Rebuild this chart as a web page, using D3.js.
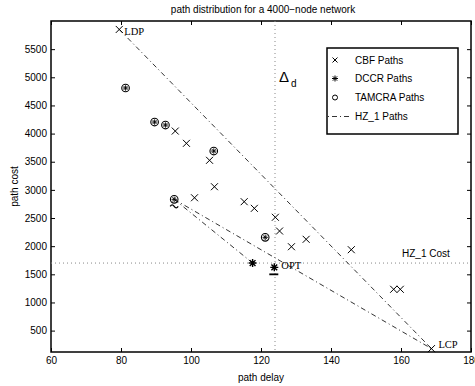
<!doctype html>
<html lang="en">
<head>
<meta charset="utf-8">
<title>path distribution</title>
<script src="https://cdn.jsdelivr.net/npm/d3@7"></script>
<style>
  body { margin: 0; background: #fff; }
  text { font-family: "Liberation Sans", Arial, sans-serif; }
</style>
</head>
<body>
<script>
// CBF paths (x markers), LDP first, LCP last
var cbfDelay = [79.5, 95.5, 98.7, 105.3, 106.7, 101.0, 115.2, 118.1, 124.1, 125.3, 128.7, 132.9, 145.8, 157.9, 159.8, 168.7];
var cbfCost  = [5850, 4045, 3827, 3525, 3056, 2860, 2790, 2672, 2513, 2269, 1990, 2122, 1937, 1234, 1234, 180];

// DCCR paths (asterisks)
var dccrDelay = [81.3, 89.6, 92.7, 106.5, 95.2, 121.2, 117.6, 123.8];
var dccrCost  = [4810, 4205, 4152, 3690, 2832, 2157, 1701, 1624];

// TAMCRA paths (circles)
var tamcraDelay = [81.3, 89.6, 92.7, 106.5, 95.2, 121.2];
var tamcraCost  = [4810, 4205, 4152, 3690, 2832, 2157];

// HZ_1 paths, one segment per entry
var hzDelay = [[79.5, 168.7], [95.2, 117.6], [95.2, 168.7]];
var hzCost  = [[5850, 180], [2832, 1701], [2832, 180]];

var optDelay = 124;    // vertical dotted line (Delta_d)
var hzCostLine = 1700; // horizontal dotted line (HZ_1 Cost)

var xTicks = [60, 80, 100, 120, 140, 160, 180];
var yTicks = [500, 1000, 1500, 2000, 2500, 3000, 3500, 4000, 4500, 5000, 5500];

var svgWidth = 475, svgHeight = 386;
var plotL = 51, plotR = 471, plotT = 21, plotB = 352;

var svg = d3.select("body").append("svg")
    .attr("width", svgWidth)
    .attr("height", svgHeight);

var x = d3.scaleLinear().domain([60, 180]).range([plotL, plotR]);
var y = d3.scaleLinear().domain([120, 6000]).range([plotB, plotT]);

// axes, MATLAB style: ticks pointing inward on all four sides
function styleAxis(g) {
    g.attr("font-family", null).attr("font-size", null);
    g.selectAll("text").attr("font-size", 10).attr("fill", "#000");
    g.selectAll("line").attr("stroke", "#000");
    g.select(".domain").remove();
}

svg.append("g").attr("transform", "translate(0," + plotB + ")")
    .call(d3.axisBottom(x).tickValues(xTicks).tickFormat(d3.format("d"))
        .tickSizeInner(-4).tickSizeOuter(0).tickPadding(5))
    .call(styleAxis);
svg.append("g").attr("transform", "translate(0," + plotT + ")")
    .call(d3.axisTop(x).tickValues(xTicks).tickSizeInner(-4).tickSizeOuter(0).tickFormat(""))
    .call(styleAxis);
svg.append("g").attr("transform", "translate(" + plotL + ",0)")
    .call(d3.axisLeft(y).tickValues(yTicks).tickFormat(d3.format("d"))
        .tickSizeInner(-4).tickSizeOuter(0).tickPadding(4))
    .call(styleAxis);
svg.append("g").attr("transform", "translate(" + plotR + ",0)")
    .call(d3.axisRight(y).tickValues(yTicks).tickSizeInner(-4).tickSizeOuter(0).tickFormat(""))
    .call(styleAxis);

// frame
svg.append("rect")
    .attr("x", plotL).attr("y", plotT)
    .attr("width", plotR - plotL).attr("height", plotB - plotT)
    .attr("fill", "none").attr("stroke", "#000").attr("stroke-width", 1.5);

// dotted reference lines
svg.append("line")
    .attr("x1", x(optDelay)).attr("x2", x(optDelay))
    .attr("y1", plotT).attr("y2", plotB)
    .attr("stroke", "#888").attr("stroke-width", 1).attr("stroke-dasharray", "1,3");
svg.append("line")
    .attr("x1", plotL).attr("x2", plotR)
    .attr("y1", y(hzCostLine)).attr("y2", y(hzCostLine))
    .attr("stroke", "#888").attr("stroke-width", 1).attr("stroke-dasharray", "1,3");

// HZ_1 dash-dot segments
svg.selectAll(".hz")
    .data(hzDelay)
    .enter().append("line")
    .attr("class", "hz")
    .attr("x1", function(d) { return x(d[0]); })
    .attr("x2", function(d) { return x(d[1]); })
    .attr("y1", function(d, i) { return y(hzCost[i][0]); })
    .attr("y2", function(d, i) { return y(hzCost[i][1]); })
    .attr("stroke", "#000").attr("stroke-width", 0.8)
    .attr("stroke-dasharray", "5,3,1,3");

// marker paths
function crossPath(s) {
    return "M" + (-s) + "," + (-s) + "L" + s + "," + s + "M" + (-s) + "," + s + "L" + s + "," + (-s);
}
function starPath(s) {
    var d = s * 0.72;
    return "M" + (-s) + ",0L" + s + ",0M0," + (-s) + "L0," + s +
        "M" + (-d) + "," + (-d) + "L" + d + "," + d + "M" + (-d) + "," + d + "L" + d + "," + (-d);
}

// CBF
svg.selectAll(".cbf")
    .data(cbfDelay)
    .enter().append("path")
    .attr("class", "cbf")
    .attr("transform", function(d, i) { return "translate(" + x(d) + "," + y(cbfCost[i]) + ")"; })
    .attr("d", crossPath(3.5))
    .attr("stroke", "#000").attr("stroke-width", 1).attr("fill", "none");

// TAMCRA
svg.selectAll(".tamcra")
    .data(tamcraDelay)
    .enter().append("circle")
    .attr("class", "tamcra")
    .attr("cx", function(d) { return x(d); })
    .attr("cy", function(d, i) { return y(tamcraCost[i]); })
    .attr("r", 3.8)
    .attr("stroke", "#000").attr("stroke-width", 1.1).attr("fill", "none");

// DCCR (smaller and thinner where it sits inside a TAMCRA circle)
svg.selectAll(".dccr")
    .data(dccrDelay)
    .enter().append("path")
    .attr("class", "dccr")
    .attr("transform", function(d, i) { return "translate(" + x(d) + "," + y(dccrCost[i]) + ")"; })
    .attr("d", function(d, i) { return starPath(i < tamcraDelay.length ? 2.7 : 4); })
    .attr("stroke", "#000")
    .attr("stroke-width", function(d, i) { return i < tamcraDelay.length ? 0.9 : 1.4; })
    .attr("fill", "none");

// small marks under two of the DCCR points
svg.append("path")
    .attr("d", "M" + (x(dccrDelay[4]) - 4) + "," + (y(dccrCost[4]) + 7) +
        " q2,-3 4,0 t4,0")
    .attr("stroke", "#000").attr("stroke-width", 1.3).attr("fill", "none");
svg.append("line")
    .attr("x1", x(dccrDelay[7]) - 5).attr("x2", x(dccrDelay[7]) + 4)
    .attr("y1", y(dccrCost[7]) + 7).attr("y2", y(dccrCost[7]) + 7)
    .attr("stroke", "#000").attr("stroke-width", 1.8);

// point labels (serif, as in the original)
function serifLabel(txt, px, py) {
    svg.append("text").text(txt)
        .attr("x", px).attr("y", py)
        .style("font-family", "'Liberation Serif', 'Times New Roman', serif")
        .attr("font-size", 10.5).attr("fill", "#000");
}
serifLabel("LDP", x(cbfDelay[0]) + 5, y(cbfCost[0]) + 6);
serifLabel("LCP", x(cbfDelay[cbfDelay.length - 1]) + 7, y(cbfCost[cbfCost.length - 1]) - 1);
serifLabel("OPT", x(dccrDelay[7]) + 7, y(dccrCost[7]) + 2);

// Delta_d and HZ_1 Cost labels
var dl = svg.append("text").attr("x", x(optDelay) + 4).attr("y", 82)
    .attr("font-size", 15).attr("fill", "#000");
dl.append("tspan").text("\u0394");
dl.append("tspan").text("d")
    .attr("font-size", 10).attr("dx", 2).attr("dy", 5);

svg.append("text").text("HZ_1 Cost")
    .attr("x", 402).attr("y", y(hzCostLine) - 6)
    .attr("font-size", 10).attr("fill", "#000");

// title and axis labels
svg.append("text").text("path distribution for a 4000\u2212node network")
    .attr("x", 263).attr("y", 12.5).attr("text-anchor", "middle")
    .attr("font-size", 10).attr("fill", "#000");
svg.append("text").text("path delay")
    .attr("x", (plotL + plotR) / 2).attr("y", 381).attr("text-anchor", "middle")
    .attr("font-size", 10).attr("fill", "#000");
svg.append("text").text("path cost")
    .attr("transform", "translate(18," + (plotT + plotB) / 2 + ") rotate(-90)")
    .attr("text-anchor", "middle")
    .attr("font-size", 10).attr("fill", "#000");

// legend
var lg = svg.append("g").attr("transform", "translate(327,48)");
lg.append("rect").attr("width", 131).attr("height", 86)
    .attr("fill", "#fff").attr("stroke", "#000").attr("stroke-width", 1.5);
var legendNames = ["CBF Paths", "DCCR Paths", "TAMCRA Paths", "HZ_1 Paths"];
var legendY = [12, 30.5, 49.5, 68.5];
lg.selectAll(".lt")
    .data(legendNames)
    .enter().append("text")
    .attr("class", "lt")
    .attr("x", 28).attr("y", function(d, i) { return legendY[i] + 3.5; })
    .attr("font-size", 10).attr("fill", "#000")
    .text(function(d) { return d; });
lg.append("path").attr("transform", "translate(8," + legendY[0] + ")")
    .attr("d", crossPath(2.5)).attr("stroke", "#000").attr("stroke-width", 1);
lg.append("path").attr("transform", "translate(8," + legendY[1] + ")")
    .attr("d", starPath(3)).attr("stroke", "#000").attr("stroke-width", 1);
lg.append("circle").attr("cx", 8).attr("cy", legendY[2]).attr("r", 2.5)
    .attr("fill", "none").attr("stroke", "#000").attr("stroke-width", 1);
lg.append("line").attr("x1", 1).attr("x2", 22)
    .attr("y1", legendY[3]).attr("y2", legendY[3])
    .attr("stroke", "#000").attr("stroke-width", 0.8).attr("stroke-dasharray", "1,3,5,3");
</script>
</body>
</html>
